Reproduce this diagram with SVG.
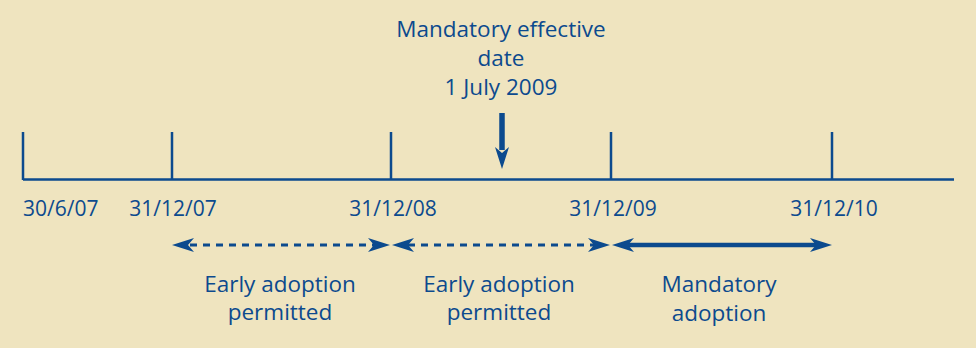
<svg xmlns="http://www.w3.org/2000/svg" width="976" height="348" viewBox="0 0 976 348">
  <defs>
    <style>
      .lbl { font-family: "Open Sans", "Liberation Sans", sans-serif; font-size: 22.5px; fill: #0C4A8E; text-anchor: middle; }
      .date { font-size: 21px; }
      .axis { stroke: #0C4A8E; stroke-width: 2.5; fill: none; }
      .dash { stroke: #0C4A8E; stroke-width: 3; stroke-dasharray: 7 6; fill: none; }
      .solid { stroke: #0C4A8E; stroke-width: 4.5; fill: none; }
      .head { fill: #0C4A8E; }
    </style>
    <!-- barbed arrowhead, tip at origin pointing +x -->
    <path id="ah" d="M0,0 L-22,-7 L-16,0 L-22,7 Z"/>
  </defs>

  <rect width="976" height="348" fill="#EFE4BF"/>

  <!-- axis and ticks -->
  <g id="timeline">
    <path class="axis" d="M23,179.5 H954 M23,132 V180 M172,132 V179 M391,132 V179 M611,132 V179 M832,132 V179"/>
  </g>

  <g id="tick-labels">
    <text class="lbl date" x="23" y="216" style="text-anchor:start">30/6/07</text>
    <text class="lbl date" x="173" y="216">31/12/07</text>
    <text class="lbl date" x="393" y="216">31/12/08</text>
    <text class="lbl date" x="613" y="216">31/12/09</text>
    <text class="lbl date" x="834" y="216">31/12/10</text>
  </g>

  <g id="effective-date">
    <text class="lbl" x="501" y="37">Mandatory effective</text>
    <text class="lbl" x="501" y="66">date</text>
    <text class="lbl" x="501" y="95">1 July 2009</text>
  </g>

  <g id="connectors">
    <!-- effective date pointer -->
    <line x1="502" y1="113" x2="502" y2="150" stroke="#0C4A8E" stroke-width="5.5"/>
    <use href="#ah" class="head" transform="translate(502,169) rotate(90)"/>

    <!-- early adoption 2008 -->
    <line class="dash" x1="190" y1="245" x2="374" y2="245"/>
    <use href="#ah" class="head" transform="translate(172,245) rotate(180)"/>
    <use href="#ah" class="head" transform="translate(390,245)"/>

    <!-- early adoption 2009 -->
    <line class="dash" x1="408" y1="245" x2="594" y2="245"/>
    <use href="#ah" class="head" transform="translate(392,245) rotate(180)"/>
    <use href="#ah" class="head" transform="translate(610,245)"/>

    <!-- mandatory adoption -->
    <line class="solid" x1="628" y1="245" x2="816" y2="245"/>
    <use href="#ah" class="head" transform="translate(612,245) rotate(180)"/>
    <use href="#ah" class="head" transform="translate(832,245)"/>
  </g>

  <g id="early-adoption-1">
    <text class="lbl" x="280" y="292">Early adoption</text>
    <text class="lbl" x="280" y="320">permitted</text>
  </g>
  <g id="early-adoption-2">
    <text class="lbl" x="499" y="292">Early adoption</text>
    <text class="lbl" x="499" y="320">permitted</text>
  </g>
  <g id="mandatory-adoption">
    <text class="lbl" x="719" y="292">Mandatory</text>
    <text class="lbl" x="719" y="321">adoption</text>
  </g>
</svg>
